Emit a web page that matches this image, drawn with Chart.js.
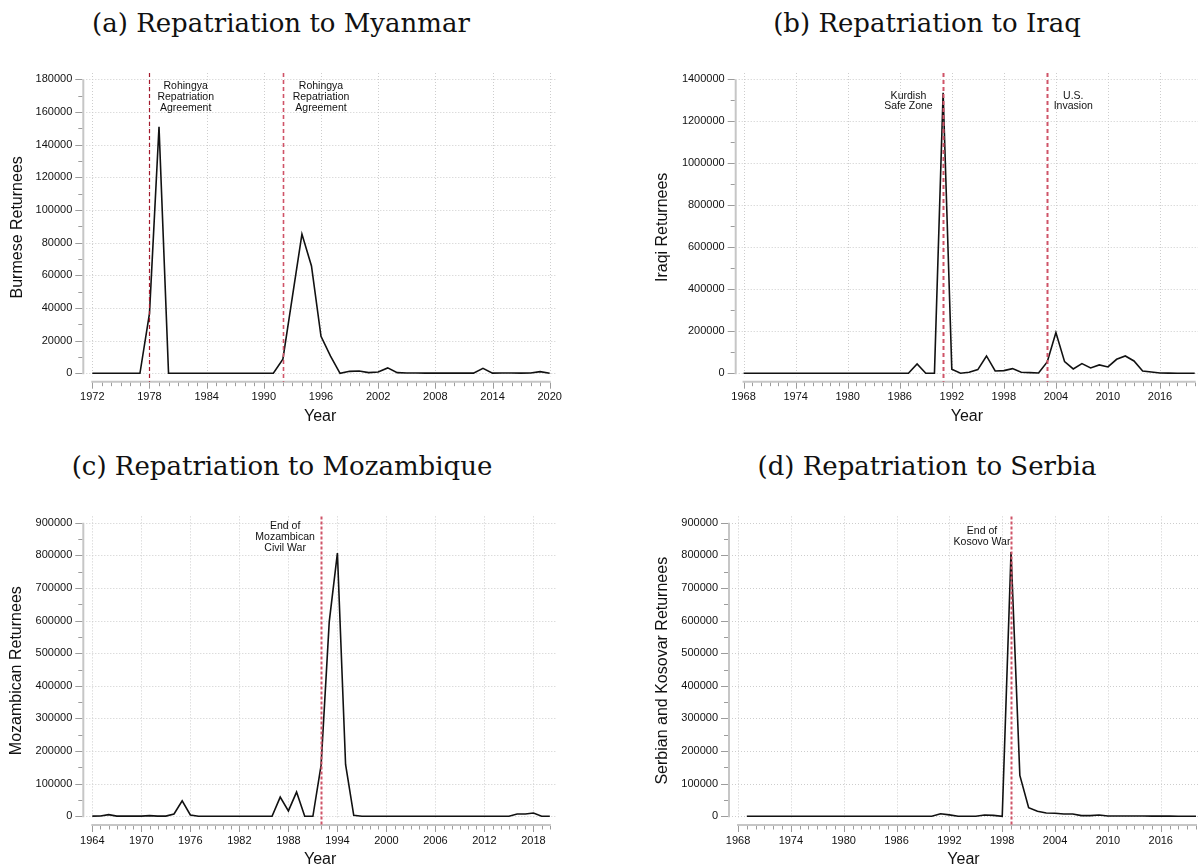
<!DOCTYPE html>
<html>
<head>
<meta charset="utf-8">
<script src="https://cdn.jsdelivr.net/npm/chart.js@4.4.1/dist/chart.umd.min.js"></script>
<style>
  html, body { margin: 0; padding: 0; background: #fff; }
  #page { position: relative; width: 1198px; height: 868px; overflow: hidden; }
  .panel { position: absolute; }
  .ptitle {
    position: absolute; transform: translateX(-50%); white-space: nowrap;
    font-family: "DejaVu Serif", serif; font-size: 26px; line-height: 30px; color: #111;
  }
</style>
</head>
<body>
<div id="page">
  <div class="ptitle" style="left:281px; top:8px">(a) Repatriation to Myanmar</div>
  <div class="ptitle" style="left:927px; top:8px">(b) Repatriation to Iraq</div>
  <div class="ptitle" style="left:282px; top:451px">(c) Repatriation to Mozambique</div>
  <div class="ptitle" style="left:927px; top:451px">(d) Repatriation to Serbia</div>

  <div class="panel" style="left:0; top:0"><canvas id="chartA" width="600" height="434"></canvas></div>
  <div class="panel" style="left:600px; top:0"><canvas id="chartB" width="598" height="434"></canvas></div>
  <div class="panel" style="left:0; top:434px"><canvas id="chartC" width="600" height="434"></canvas></div>
  <div class="panel" style="left:600px; top:434px"><canvas id="chartD" width="598" height="434"></canvas></div>
</div>

<script>
// ---- data ----
function years(from, to) {
  const out = [];
  for (let y = from; y <= to; y++) out.push(y);
  return out;
}

// (a) Myanmar
const myanmarYears = years(1972, 2020);
const myanmarReturnees = [
  0, 0, 0, 0, 0, 0,                      // 1972-1977
  36700, 150900, 0,                      // 1978-1980
  0, 0, 0, 0, 0, 0, 0, 0, 0, 0, 0,       // 1981-1991
  8600, 47000, 85200, 65700, 22600, 10500, 0, // 1992-1998
  1200, 1400, 400, 800, 3300, 400,       // 1999-2004
  200, 200, 100, 100, 100, 100, 100, 100, // 2005-2012
  3000, 100, 200, 200, 100, 200, 1000, 0  // 2013-2020
];
const myanmarXTicks = [1972, 1978, 1984, 1990, 1996, 2002, 2008, 2014, 2020];
const myanmarYTicks = [0, 20000, 40000, 60000, 80000, 100000, 120000, 140000, 160000, 180000];

// (b) Iraq
const iraqYears = years(1968, 2020);
const iraqReturnees = [
  0, 0, 0, 0, 0, 0, 0, 0, 0, 0, 0, 0, 0, 0, 0, 0, 0, 0, 0, 0, // 1968-1987
  44400, 0, 0, 1336000, 19000, 0, 4800, 17500, 82500, 11100,    // 1988-1997
  12700, 22200, 4800, 3200, 1600, 54000, 193600, 55500, 20600, 46000, // 1998-2007
  25400, 39700, 30200, 66700, 82500, 58700, 11100, 6300, 1600, 1000,  // 2008-2017
  500, 300, 0                                                    // 2018-2020
];
const iraqXTicks = [1968, 1974, 1980, 1986, 1992, 1998, 2004, 2010, 2016];
const iraqYTicks = [0, 200000, 400000, 600000, 800000, 1000000, 1200000, 1400000];

// (c) Mozambique
const mozYears = years(1964, 2020);
const mozReturnees = [
  500, 1000, 5000, 500, 500, 500, 500, 2000, 500, 500, 7000, 47500, 4000, 0, // 1964-1977
  0, 0, 0, 0, 0, 0, 0, 0, 0,                                             // 1978-1986
  58800, 16500, 74300, 0, 0, 156000, 596000, 807000, 159000, 3000,       // 1987-1996
  0, 0, 0, 0, 0, 0, 0, 0, 0, 0, 0, 0, 0, 0, 0, 0, 0, 0, 0,               // 1997-2015
  7000, 7000, 10000, 0, 0                                                // 2016-2020
];
const mozXTicks = [1964, 1970, 1976, 1982, 1988, 1994, 2000, 2006, 2012, 2018];
const mozYTicks = [0, 100000, 200000, 300000, 400000, 500000, 600000, 700000, 800000, 900000];

// (d) Serbia
const serbYears = years(1969, 2020);
const serbReturnees = [
  0, 0, 0, 0, 0, 0, 0, 0, 0, 0, 0, 0, 0, 0, 0, 0, 0, 0, 0, 0, 0, 0, // 1969-1990
  8000, 4500, 0, 0, 0, 4000, 3000, 0,                                // 1991-1998
  810000, 125600, 26600, 15300, 10200, 9200, 7000, 7000, 2000, 2000, // 1999-2008
  4000, 1000, 1000, 1000, 800, 800, 600, 600, 500, 300, 200, 100     // 2009-2020
];
const serbXTicks = [1968, 1974, 1980, 1986, 1992, 1998, 2004, 2010, 2016];
const serbYTicks = [0, 100000, 200000, 300000, 400000, 500000, 600000, 700000, 800000, 900000];

// ---- drawing ----
const SANS = '"Liberation Sans", Arial, Helvetica, sans-serif';

function padRange(lo, hi, fLo, fHi) {
  const s = hi - lo;
  return [lo - s * fLo, hi + s * fHi];
}

// gridlines, offset axes and tick marks drawn through the chart's scales
const stataAxes = {
  id: 'stataAxes',
  beforeDatasetsDraw(chart) {
    const p = chart.options.plugins.stataAxes;
    const { ctx, chartArea: a, scales: { x, y } } = chart;
    const seg = (x1, y1, x2, y2) => { ctx.beginPath(); ctx.moveTo(x1, y1); ctx.lineTo(x2, y2); ctx.stroke(); };
    ctx.save();

    // dotted grid
    ctx.strokeStyle = '#cdcdcd';
    ctx.lineWidth = 1;
    ctx.setLineDash([1, 2]);
    const y0 = y.getPixelForValue(p.yTicks[0]);
    p.yTicks.forEach(v => {
      const py = Math.round(y.getPixelForValue(v)) + 0.5;
      seg(a.left + 3, py, a.right, py);
    });
    p.xTicks.forEach(v => {
      const px = Math.round(x.getPixelForValue(v)) + 0.5;
      seg(px, a.top, px, y0 + 3);
    });
    ctx.setLineDash([]);

    // axis lines
    ctx.strokeStyle = '#c6c6c6';
    ctx.lineWidth = 2;
    seg(a.left, y.getPixelForValue(p.yTicks[p.yTicks.length - 1]), a.left, y0 + 1);
    seg(x.getPixelForValue(p.xTicks[0]) - 1, a.bottom, x.getPixelForValue(p.xEnd) + 1, a.bottom);

    // tick marks
    ctx.strokeStyle = '#9c9c9c';
    ctx.lineWidth = 1;
    const yStep = p.yTicks[1] - p.yTicks[0];
    p.yTicks.forEach((v, i) => {
      const py = Math.round(y.getPixelForValue(v)) + 0.5;
      seg(a.left - 8, py, a.left - 1, py);
      if (i < p.yTicks.length - 1) {
        const pm = Math.round(y.getPixelForValue(v + yStep / 2)) + 0.5;
        seg(a.left - 5, pm, a.left - 1, pm);
      }
    });
    for (let yr = p.xTicks[0]; yr <= p.xEnd; yr++) {
      const px = Math.round(x.getPixelForValue(yr)) + 0.5;
      const major = p.xTicks.includes(yr);
      seg(px, a.bottom + 1, px, a.bottom + (major ? 7 : 4.5));
    }
    ctx.restore();
  },
  afterDatasetsDraw(chart) {
    const p = chart.options.plugins.stataAxes;
    const { ctx, chartArea: a, scales: { x, y } } = chart;
    ctx.save();
    // event lines
    p.events.forEach(ev => {
      const px = Math.round(x.getPixelForValue(ev.year)) + 0.5;
      ctx.strokeStyle = ev.color;
      ctx.lineWidth = ev.width;
      ctx.setLineDash(ev.dash);
      ctx.beginPath();
      ctx.moveTo(px, a.top);
      ctx.lineTo(px, a.bottom);
      ctx.stroke();
    });
    ctx.setLineDash([]);
    // annotations
    ctx.fillStyle = '#111';
    ctx.font = '10.5px ' + SANS;
    ctx.textAlign = 'center';
    ctx.textBaseline = 'middle';
    p.notes.forEach(n => {
      const px = x.getPixelForValue(n.x);
      const py = y.getPixelForValue(n.y);
      n.lines.forEach((t, i) => ctx.fillText(t, px, py + i * 10.8));
    });
    ctx.restore();
  }
};

function makePanel(id, g, d) {
  const canvas = document.getElementById(id);
  const H = canvas.height;
  const W = canvas.width;
  const [xMin, xMax] = d.xRange;
  const [yMin, yMax] = d.yRange;
  return new Chart(canvas.getContext('2d'), {
    type: 'line',
    data: {
      datasets: [{
        data: d.years.map((yr, i) => ({ x: yr, y: d.values[i] })),
        borderColor: '#111',
        borderWidth: 1.6,
        pointRadius: 0,
        tension: 0,
        fill: false
      }]
    },
    options: {
      responsive: false,
      animation: false,
      events: [],
      layout: { padding: { left: 0, top: g.T, right: W - g.R, bottom: 0 } },
      plugins: {
        legend: { display: false },
        tooltip: { enabled: false },
        stataAxes: {
          xTicks: d.xTicks, yTicks: d.yTicks, xEnd: 2020,
          events: d.events, notes: d.notes
        }
      },
      scales: {
        x: {
          type: 'linear', min: xMin, max: xMax, bounds: 'data',
          afterBuildTicks: s => { s.ticks = d.xTicks.map(v => ({ value: v })); },
          afterFit: s => { s.height = H - g.B; },
          grid: { display: false, drawTicks: false },
          border: { display: false },
          ticks: {
            padding: 9, autoSkip: false, maxRotation: 0, color: '#111',
            font: { family: SANS, size: 11 },
            callback: v => String(v)
          },
          title: {
            display: true, text: 'Year', color: '#111',
            font: { family: SANS, size: 16, lineHeight: 1 },
            padding: { top: 0, bottom: g.xTitlePad }
          }
        },
        y: {
          type: 'linear', min: yMin, max: yMax, bounds: 'data',
          afterBuildTicks: s => { s.ticks = d.yTicks.map(v => ({ value: v })); },
          afterFit: s => { s.width = g.L; },
          grid: { display: false, drawTicks: false },
          border: { display: false },
          ticks: {
            padding: 11, autoSkip: false, color: '#111',
            font: { family: SANS, size: 11 },
            callback: v => String(v)
          },
          title: {
            display: true, text: d.yTitle, color: '#111',
            font: { family: SANS, size: 16, lineHeight: 1 },
            padding: { top: g.yTitlePad, bottom: 0 }
          }
        }
      }
    },
    plugins: [stataAxes]
  });
}

const RED = '#cf5468';
const DARKRED = '#a3192c';

makePanel('chartA', { L: 83.3, R: 557, T: 73, B: 381.7, yTitlePad: 9.2, xTitlePad: 9 }, {
  years: myanmarYears, values: myanmarReturnees,
  xTicks: myanmarXTicks, yTicks: myanmarYTicks,
  xRange: padRange(1972, 2020, 0.0197, 0.016),
  yRange: padRange(0, 180000, 0.0286, 0.0214),
  yTitle: 'Burmese Returnees',
  events: [
    { year: 1978, color: DARKRED, width: 1.2, dash: [4, 3] },
    { year: 1992, color: RED, width: 1.6, dash: [4, 3] }
  ],
  notes: [
    { x: 1981.8, y: 175800, lines: ['Rohingya', 'Repatriation', 'Agreement'] },
    { x: 1996, y: 175800, lines: ['Rohingya', 'Repatriation', 'Agreement'] }
  ]
});

makePanel('chartB', { L: 135.7, R: 598, T: 73, B: 381.7, yTitlePad: 55, xTitlePad: 9 }, {
  years: iraqYears, values: iraqReturnees,
  xTicks: iraqXTicks, yTicks: iraqYTicks,
  xRange: padRange(1968, 2020, 0.0175, 0.0073),
  yRange: padRange(0, 1400000, 0.0286, 0.0214),
  yTitle: 'Iraqi Returnees',
  events: [
    { year: 1991, color: RED, width: 2, dash: [4, 3] },
    { year: 2003, color: RED, width: 2, dash: [4, 3] }
  ],
  notes: [
    { x: 1987, y: 1322000, lines: ['Kurdish', 'Safe Zone'] },
    { x: 2006, y: 1322000, lines: ['U.S.', 'Invasion'] }
  ]
});

makePanel('chartC', { L: 83.3, R: 557, T: 82.4, B: 391, yTitlePad: 9, xTitlePad: 0 }, {
  years: mozYears, values: mozReturnees,
  xTicks: mozXTicks, yTicks: mozYTicks,
  xRange: padRange(1964, 2020, 0.0197, 0.0157),
  yRange: padRange(0, 900000, 0.0296, 0.0215),
  yTitle: 'Mozambican Returnees',
  events: [
    { year: 1992, color: RED, width: 2, dash: [3, 2] }
  ],
  notes: [
    { x: 1987.6, y: 889500, lines: ['End of', 'Mozambican', 'Civil War'] }
  ]
});

makePanel('chartD', { L: 129, R: 598, T: 82.4, B: 391, yTitlePad: 54.6, xTitlePad: 0 }, {
  years: serbYears, values: serbReturnees,
  xTicks: serbXTicks, yTicks: serbYTicks,
  xRange: padRange(1968, 2020, 0.0197, 0.0044),
  yRange: padRange(0, 900000, 0.0296, 0.0215),
  yTitle: 'Serbian and Kosovar Returnees',
  events: [
    { year: 1999, color: RED, width: 2, dash: [3, 2] }
  ],
  notes: [
    { x: 1995.7, y: 874000, lines: ['End of', 'Kosovo War'] }
  ]
});
</script>
</body>
</html>
